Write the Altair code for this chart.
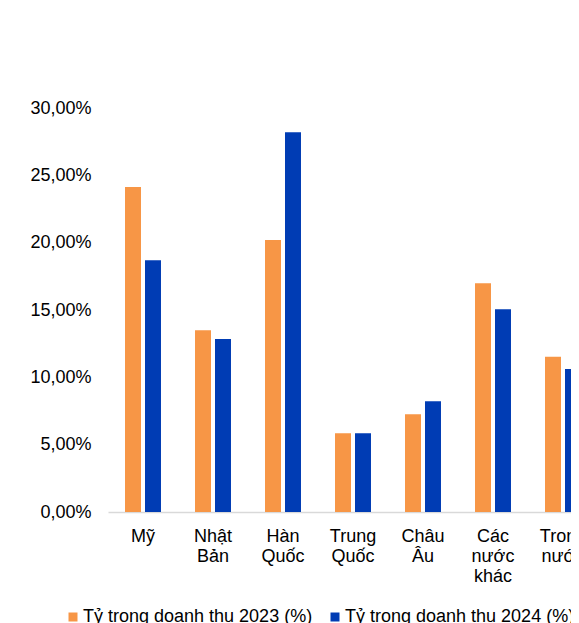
import altair as alt
import pandas as pd

categories = ["Mỹ", "Nhật Bản", "Hàn Quốc", "Trung Quốc", "Châu Âu", "Các nước khác", "Trong nước"]
series_names = ["Tỷ trọng doanh thu 2023 (%)", "Tỷ trọng doanh thu 2024 (%)"]
values_2023 = [24.13, 13.5, 20.2, 5.84, 7.25, 16.98, 11.53]
values_2024 = [18.7, 12.85, 28.2, 5.84, 8.22, 15.05, 10.62]
colors = ["#F79646", "#003CB4"]

rows = []
for c, v in zip(categories, values_2023):
    rows.append({"cat": c, "series": series_names[0], "value": v})
for c, v in zip(categories, values_2024):
    rows.append({"cat": c, "series": series_names[1], "value": v})
df = pd.DataFrame(rows)

FONT = "Liberation Sans"

chart = alt.Chart(df).mark_bar().encode(
    x=alt.X("cat:N", sort=categories, title=None,
            scale=alt.Scale(paddingInner=0.486, paddingOuter=0.243, range=[0, 490]),
            axis=alt.Axis(labelAngle=0, ticks=False, domainColor="#d9d9d9", domainWidth=1.5,
                          labelPadding=15, labelFontSize=18, labelFont=FONT, labelColor="#000000",
                          labelExpr="split(datum.label, ' ')", labelLineHeight=20,
                          labelBaseline="top")),
    xOffset=alt.XOffset("series:N", sort=series_names,
                        scale=alt.Scale(paddingInner=0.2, paddingOuter=0)),
    y=alt.Y("value:Q", title=None,
            scale=alt.Scale(domain=[0, 30], nice=False),
            axis=alt.Axis(values=[0, 5, 10, 15, 20, 25, 30], grid=False, domain=False, ticks=False,
                          labelPadding=17, labelFontSize=18, labelFont=FONT, labelColor="#000000",
                          labelExpr="replace(format(datum.value, '.2f'), '.', ',') + '%'")),
    color=alt.Color("series:N", sort=series_names, title=None,
                    scale=alt.Scale(domain=series_names, range=colors),
                    legend=alt.Legend(orient="none", direction="horizontal", legendX=-44, legendY=500,
                                      symbolType="square", symbolSize=81, symbolStrokeWidth=0,
                                      labelFontSize=18, labelFont=FONT, labelColor="#000000",
                                      labelOffset=1, columnPadding=13, labelLimit=400, padding=0)),
).properties(
    width=463,
    height=404,
    autosize=alt.AutoSizeParams(type="none"),
    padding={"left": 100, "top": 100, "right": 0, "bottom": 111},
).configure_view(stroke=None)

chart.save("out.html", embed_options={"renderer": "svg", "actions": False})
